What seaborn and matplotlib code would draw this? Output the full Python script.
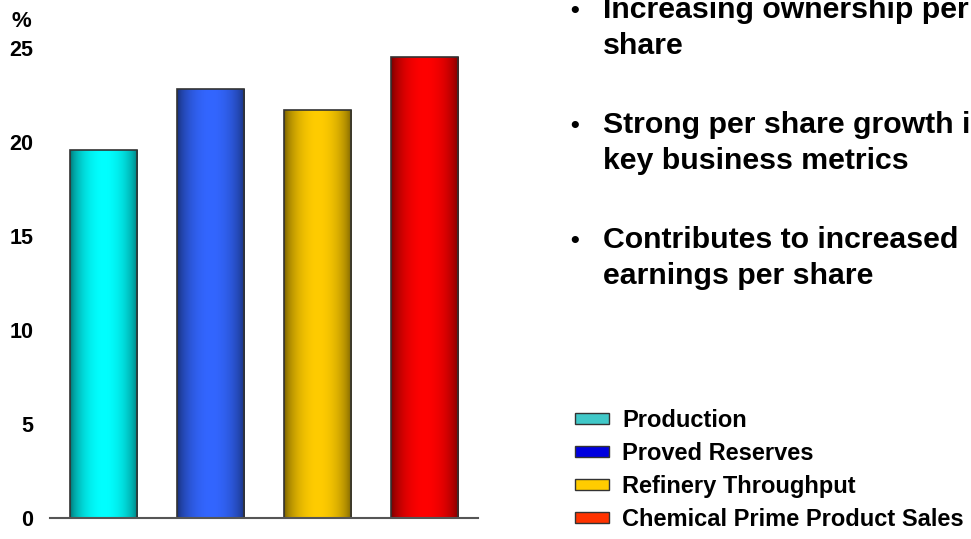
import matplotlib
matplotlib.use("Agg")
import matplotlib.pyplot as plt
from matplotlib.patches import Patch
from matplotlib.colors import to_rgb
import seaborn as sns
import numpy as np

# data
categories = ["Production", "Proved Reserves", "Refinery Throughput", "Chemical Prime Product Sales"]
values = [19.6, 22.8, 21.7, 24.5]
bar_colors = ["#00FFFF", "#3366FF", "#FFCC00", "#FF0000"]
legend_colors = ["#40C8C8", "#0000E0", "#FFCC00", "#FF3300"]
yticks = [0, 5, 10, 15, 20, 25]
bullets = [
    ["Increasing ownership per", "share"],
    ["Strong per share growth in", "key business metrics"],
    ["Contributes to increased", "earnings per share"],
]

sns.set_style("white")
plt.rcParams["font.family"] = ["Liberation Sans", "DejaVu Sans"]
plt.rcParams["font.weight"] = "bold"
plt.rcParams["text.color"] = "black"
plt.rcParams["ytick.color"] = "black"

fig = plt.figure(figsize=(9.71, 5.39), dpi=100)
ax = fig.add_axes([50 / 971, 1 - 518 / 539, 428 / 971, 470 / 539])

sns.barplot(x=categories, y=values, hue=categories, palette=bar_colors,
            width=0.63, edgecolor="#333333", linewidth=1.2, legend=False,
            saturation=1, ax=ax)

# cylinder shading on each bar
t = np.linspace(0, 1, 200)
shade = 0.4 + 0.6 * np.sin(np.pi * t) ** 0.55
for p, c in zip(ax.patches, bar_colors):
    rgb = np.array(to_rgb(c))
    img = (shade[:, None] * rgb[None, :])[None, :, :]
    x0, y0 = p.get_x(), p.get_y()
    w, h = p.get_width(), p.get_height()
    im = ax.imshow(img, extent=[x0, x0 + w, y0, y0 + h], aspect="auto",
                   zorder=p.get_zorder() + 0.1, interpolation="bilinear")
    im.set_clip_path(p)
    p.set_facecolor("none")
    p.set_zorder(p.get_zorder() + 0.2)

ax.set_xlim(-0.5, 3.5)
ax.set_ylim(0, 25)
ax.set_yticks(yticks)
ax.set_yticklabels([str(v) for v in yticks], fontsize=15.5, fontweight="bold")
ax.set_xticks([])
ax.tick_params(axis="y", length=0, pad=12)
for s in ["top", "left", "right"]:
    ax.spines[s].set_visible(False)
ax.spines["bottom"].set_color("#555555")
ax.spines["bottom"].set_linewidth(1.5)
ax.set_xlabel("")
ax.set_ylabel("")

fig.text(11 / 971, 1 - 27 / 539, "%", fontsize=16, fontweight="bold", va="baseline")

# bullet text
tops = [18, 133, 248]
for base, lines in zip(tops, bullets):
    fig.text(575 / 971, 1 - base / 539, "\u2022", fontsize=18, fontweight="bold",
             ha="center", va="baseline")
    for i, line in enumerate(lines):
        fig.text(603 / 971, 1 - (base + 36 * i) / 539, line, fontsize=21.8,
                 fontweight="bold", va="baseline")

handles = [Patch(facecolor=c, edgecolor="#333333", linewidth=1) for c in legend_colors]
fig.legend(handles, categories, loc="upper left", bbox_to_anchor=(563 / 971, 1 - 397 / 539),
           frameon=False, prop={"size": 17, "weight": "bold"}, handlelength=1.45,
           handleheight=0.35, handletextpad=0.55, labelspacing=0.42, borderpad=0)

fig.savefig("out.png", dpi=100)
